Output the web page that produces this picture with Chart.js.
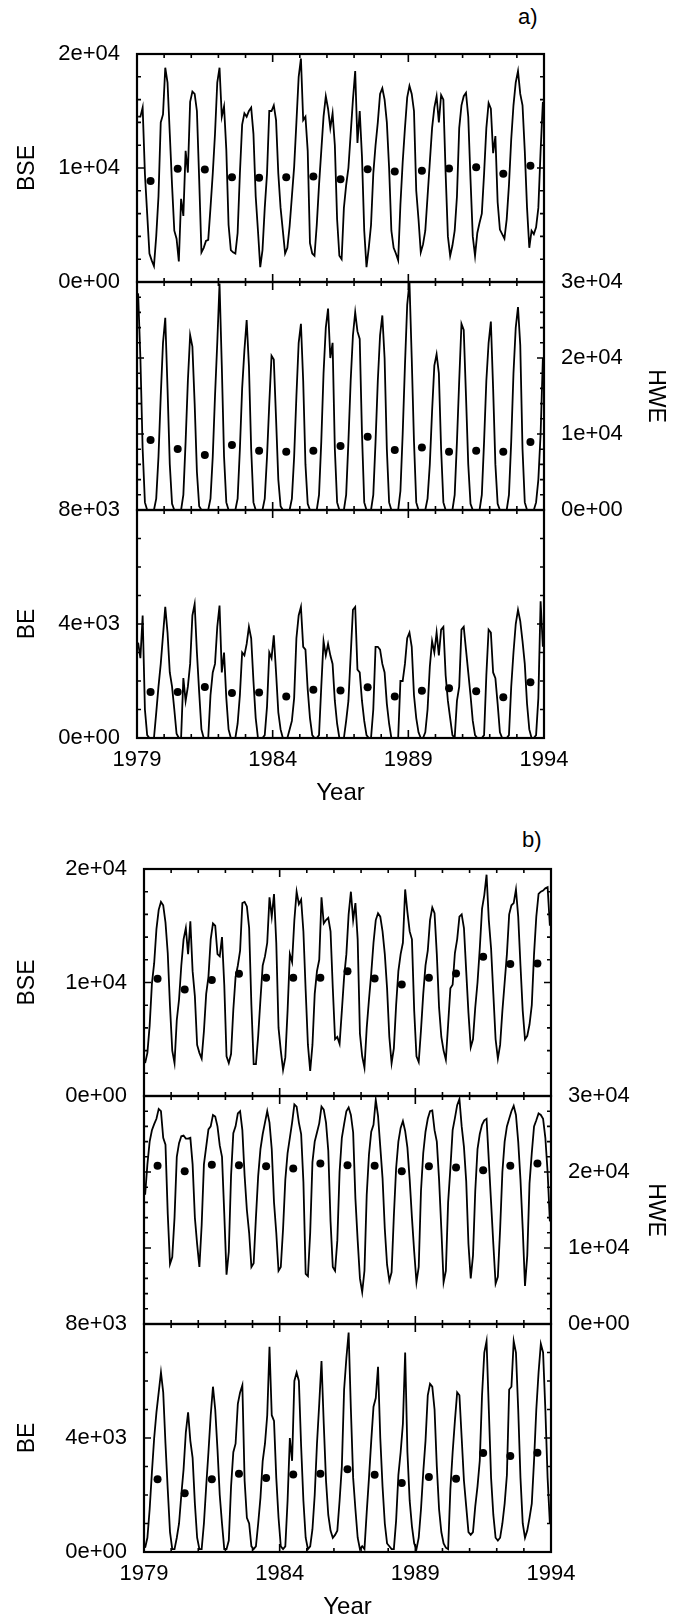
<!DOCTYPE html>
<html>
<head>
<meta charset="utf-8">
<script src="https://cdn.jsdelivr.net/npm/chart.js@4.4.0/dist/chart.umd.min.js"></script>
<style>
  body { margin: 0; background: #fff; width: 684px; height: 1619px; position: relative; overflow: hidden;
         font-family: "Liberation Sans", Arial, sans-serif; }
  canvas { position: absolute; left: 0; }
  .tag { position: absolute; font-size: 22px; line-height: 22px; color: #000; }
</style>
</head>
<body>
<div class="tag" style="left:518px; top:6px;">a)</div>
<div class="tag" style="left:522px; top:829px;">b)</div>
<canvas id="aBSE"></canvas>
<canvas id="aHWE"></canvas>
<canvas id="aBE"></canvas>
<canvas id="bBSE"></canvas>
<canvas id="bHWE"></canvas>
<canvas id="bBE"></canvas>
<script>
const FIRST_YEAR = 1979;
const LAST_YEAR = 1994;
const yearTicks = [1979, 1984, 1989, 1994];

// monthly values, Jan 1979 .. Dec 1993 (one row per year)
const bseA = [
  14500, 14500, 15300, 9500, 6000, 2500, 1900, 1400, 4000, 7500, 14000, 14700,
  18800, 17500, 13000, 8500, 4500, 3800, 1800, 7300, 5800, 11500, 9600, 15800,
  16700, 16500, 15000, 9000, 2600, 3000, 3600, 3700, 6500, 9500, 13000, 17500,
  18800, 14500, 15400, 11600, 5000, 2800, 2600, 2500, 4300, 9500, 13800, 14800,
  14500, 15000, 15300, 13000, 7500, 4500, 1300, 2800, 6500, 9500, 15000, 15000,
  15500, 14200, 9500, 6500, 4500, 2500, 3000, 4900, 7500, 10100, 14000, 18000,
  19600, 14200, 14500, 11500, 3400, 2500, 2300, 5000, 8500, 11500, 14500, 16300,
  15200, 13500, 14800, 12000, 5500, 2300, 2000, 6500, 8500, 10000, 13000, 16000,
  18500, 12200, 15000, 11000, 4500, 1300, 3000, 5000, 9500, 12000, 14000, 16500,
  17000, 16000, 14000, 10000, 4500, 3000, 2500, 1900, 6800, 10500, 13500, 16200,
  17200, 16500, 15000, 8000, 5500, 2600, 3300, 4500, 7500, 10500, 13500, 15300,
  16300, 14000, 16400, 16000, 9500, 4000, 2300, 3200, 4500, 7500, 13500, 15500,
  16300, 16600, 14500, 9000, 4000, 2300, 4300, 5200, 6000, 9500, 13500, 15700,
  15200, 11300, 12800, 7000, 4600, 4200, 3800, 5500, 8500, 12500, 15500, 17500,
  18500, 16500, 15500, 11500, 6500, 3000, 4500, 4200, 4800, 6500, 11500, 15800
];
const hweA = [
  28500, 20000, 8000, 1000, 0, 0, 0, 0, 1500, 7000, 15000, 22000,
  25300, 16000, 6000, 800, 0, 0, 0, 0, 2000, 9000, 17000, 23000,
  21500, 14000, 5000, 500, 0, 0, 0, 0, 1500, 7000, 15000, 22000,
  29800, 19000, 7000, 1000, 0, 0, 0, 0, 1500, 8000, 16000, 21000,
  25000, 19000, 8000, 1000, 0, 0, 0, 0, 1500, 7000, 14000, 20300,
  19800, 12000, 4000, 500, 0, 0, 0, 0, 1500, 7000, 15000, 22000,
  24500, 17000, 6000, 800, 0, 0, 0, 0, 2000, 9000, 18000, 24000,
  26500, 20000, 22000, 8000, 1000, 0, 0, 0, 2000, 9000, 17000, 23000,
  26000, 23500, 22500, 10000, 1000, 0, 0, 0, 2000, 9000, 17000, 23000,
  25600, 20000, 8000, 1000, 0, 0, 0, 0, 2500, 10000, 19000, 27000,
  30000, 20000, 9000, 1000, 0, 0, 0, 0, 1500, 6000, 13000, 19000,
  20500, 18000, 8000, 1000, 0, 0, 0, 0, 2000, 9000, 17000, 24500,
  23700, 15000, 6000, 800, 0, 0, 0, 0, 2000, 9000, 17000, 22000,
  24800, 16000, 6000, 800, 0, 0, 0, 0, 2000, 9000, 18000, 24000,
  26700, 21700, 8000, 1000, 0, 0, 0, 0, 1000, 4000, 10000, 20000
];
const beA = [
  3350, 2800, 4300, 1000, 100, 0, 0, 0, 880, 1800, 2600, 3600,
  4600, 3700, 2300, 1800, 1000, 150, 0, 0, 2100, 1300, 1800, 2600,
  4300, 4700, 3000, 1600, 300, 0, 0, 0, 1500, 2300, 2600, 3900,
  4650, 2300, 3000, 1400, 300, 0, 0, 0, 500, 1500, 3000, 2900,
  3300, 3900, 3500, 2000, 700, 0, 0, 0, 100, 1100, 3000, 2800,
  3600, 2300, 900, 300, 0, 0, 0, 300, 600, 1400, 3500, 4300,
  4600, 3200, 3100, 1700, 700, 100, 0, 0, 100, 1800, 3400, 2900,
  3300, 2900, 2600, 1300, 500, 0, 0, 0, 600, 1300, 2900, 4500,
  4600, 2400, 2300, 1300, 600, 100, 0, 0, 1000, 3200, 3200, 3100,
  2600, 2300, 1200, 500, 0, 0, 0, 0, 2000, 2000, 2600, 3500,
  3700, 3200, 1500, 700, 200, 0, 0, 200, 1000, 2500, 3400, 3000,
  3700, 2900, 3800, 3900, 2200, 1300, 700, 100, 0, 1300, 1800, 3800,
  3900, 3100, 2300, 1500, 600, 100, 0, 0, 0, 100, 2200, 3800,
  3700, 2300, 2100, 1200, 200, 0, 0, 0, 100, 1800, 3000, 4000,
  4500, 4100, 3400, 2600, 1200, 300, 0, 0, 100, 1400, 4800, 3200
];
const bseB = [
  2900, 3800, 6200, 9900, 11700, 14700, 16400, 17100, 16800, 15300, 12600, 7900,
  4000, 2900, 6700, 8500, 11500, 13800, 14800, 12500, 15400, 11000, 8800, 4500,
  3800, 3300, 5700, 9000, 10500, 13800, 15200, 15000, 12500, 12300, 14000, 9800,
  3500, 2900, 3700, 7600, 10500, 11500, 12800, 17000, 17100, 16700, 14800, 8000,
  2800, 2800, 5300, 8500, 11500, 12300, 13500, 17500, 15800, 17800, 13500, 6000,
  4000, 2300, 3400, 7500, 12500, 11800, 15500, 18000, 16900, 17300, 14500, 9300,
  4500, 2200, 4500, 9000, 11000, 12000, 17500, 15200, 15500, 15700, 14500, 9500,
  5000, 5200, 4600, 7500, 10500, 12500, 16000, 18000, 15500, 17000, 13800, 5500,
  3500, 2500, 6000, 8500, 10800, 13500, 15500, 16100, 15800, 14500, 12500, 9500,
  5200, 2900, 4200, 8000, 11000, 12500, 13500, 18200, 16200, 14500, 13800, 7500,
  3500, 3000, 5800, 9000, 11500, 12800, 15500, 16600, 16100, 12500, 7800, 5200,
  4000, 3200, 6300, 9500, 9800, 12600, 13800, 15800, 16000, 14800, 11000, 7300,
  4300, 5000, 7800, 10000, 13000, 16500, 17700, 19500, 15500, 13000, 9000, 5000,
  3300, 4500, 7500, 10000, 12500, 16000, 16800, 17000, 18200, 15800, 11500, 7500,
  5000, 5300, 6300, 8000, 12500, 15800, 17800, 18000, 18100, 18300, 18400, 15000
];
const hweB = [
  17000, 21000, 24000, 25500, 26300, 27000, 28300, 28000, 24500, 23600, 14500, 7900,
  8800, 14000, 22000, 23800, 24700, 24800, 24400, 24400, 24500, 21000, 14000, 10500,
  7500, 13000, 21000, 23300, 25600, 26000, 27500, 27300, 26000, 23500, 22000, 14500,
  6500, 9500, 19500, 25100, 26000, 27700, 28000, 25500, 19500, 15000, 12000, 7500,
  8000, 14000, 19500, 23000, 25000, 26500, 28000, 26500, 23000, 16000, 12000, 7000,
  7500, 12500, 19000, 22500, 24500, 26500, 28900, 28600, 26500, 25000, 18700, 6600,
  6300, 12000, 21300, 24000, 25200, 26400, 28600, 28200, 26500, 22800, 13500, 7500,
  7000, 11000, 20000, 24500, 26300, 28000, 28500, 27500, 25200, 16500, 11000, 6000,
  4200, 7000, 17000, 22300, 25300, 26200, 29500, 27400, 23300, 19200, 12500, 7800,
  5700, 6800, 14200, 20500, 24000, 25800, 26700, 25400, 23200, 19000, 14000, 9500,
  5500, 7500, 17500, 22500, 25300, 27000, 28000, 28100, 25500, 24000, 19000, 12500,
  5500, 7000, 16000, 20500, 25500, 27100, 28800, 29600, 26000, 23300, 18800, 10500,
  6000, 9000, 17500, 23000, 25000, 26200, 26800, 27000, 21500, 16000, 10500, 5300,
  6200, 12500, 20000, 24000, 26000, 27000, 28000, 28700, 27500, 24000, 19000, 12500,
  5000, 9000, 18500, 22500, 26000, 26800, 27700, 27500, 27000, 24500, 20000, 13500
];
const beB = [
  150, 500, 1500, 2800, 4000, 4900, 5600, 6300, 5600, 3800, 2200, 700,
  100, 100, 500, 1000, 2000, 2900, 4200, 4900, 3900, 3300, 1700, 500,
  100, 100, 1000, 2300, 3500, 4800, 5800, 5000, 3600, 2000, 1000, 100,
  100, 400, 2300, 3500, 3800, 5200, 5600, 5850, 2500, 1200, 1000, 200,
  100, 200, 1000, 1900, 3200, 3800, 4800, 7200, 4800, 4600, 2600, 1200,
  200, 100, 200, 1800, 4000, 3200, 6000, 6300, 6000, 3700, 1800, 500,
  100, 200, 800, 2000, 3800, 5200, 6700, 4500, 2500, 1300, 750, 500,
  600, 750, 1800, 3000, 5700, 6800, 7700, 5000, 2600, 1500, 500, 100,
  200, 100, 1400, 2600, 3900, 5100, 5400, 6500, 4000, 2300, 1000, 300,
  200, 100, 100, 1100, 2700, 3500, 4500, 7000, 3500, 1800, 900, 300,
  100, 500, 1500, 2800, 3900, 5500, 5900, 5800, 5000, 3000, 1500, 700,
  300, 150, 100, 2200, 3500, 4600, 5600, 5500, 4000, 2500, 1600, 700,
  600, 700, 1600, 2300, 3200, 5500, 7000, 7400, 5000, 2600, 1300, 500,
  400, 500, 1000, 1700, 2700, 5700, 5800, 7400, 7000, 5000, 2600, 1000,
  500, 750, 1200, 1700, 3200, 5000, 6300, 7300, 7000, 5000, 2600, 1000
];

// annual means, 1979 .. 1993
const bseAMean = [8870, 9930, 9870, 9190, 9140, 9190, 9250, 9020, 9900, 9690, 9750, 9960, 10070, 9490, 10190];
const hweAMean = [9200, 8020, 7230, 8540, 7800, 7670, 7800, 8410, 9640, 7880, 8230, 7670, 7800, 7670, 8940];
const beAMean  = [1610, 1610, 1790, 1580, 1600, 1460, 1690, 1670, 1780, 1460, 1660, 1750, 1640, 1430, 1960];
const bseBMean = [10320, 9390, 10210, 10760, 10410, 10410, 10410, 11000, 10350, 9830, 10410, 10790, 12260, 11640, 11670];
const hweBMean = [20810, 20100, 20940, 20900, 20760, 20460, 21120, 20900, 20810, 20100, 20760, 20590, 20240, 20810, 21120];
const beBMean  = [2550, 2060, 2550, 2750, 2600, 2720, 2750, 2900, 2710, 2420, 2630, 2570, 3470, 3370, 3480];

Chart.defaults.font.family = '"Liberation Sans", Arial, sans-serif';
Chart.defaults.color = '#000';

const panels = [
  { id: 'aBSE', series: bseA, means: bseAMean, left: 137, right: 544, top: 54,   bottom: 282,  max: 20000, step: 2000, major: 10000, side: 'left',  title: 'BSE', xAxis: false },
  { id: 'aHWE', series: hweA, means: hweAMean, left: 137, right: 544, top: 282,  bottom: 510,  max: 30000, step: 2000, major: 10000, side: 'right', title: 'HWE', xAxis: false },
  { id: 'aBE',  series: beA,  means: beAMean,  left: 137, right: 544, top: 510,  bottom: 738,  max: 8000,  step: 1000, major: 4000,  side: 'left',  title: 'BE',  xAxis: true },
  { id: 'bBSE', series: bseB, means: bseBMean, left: 144, right: 551, top: 869,  bottom: 1096, max: 20000, step: 2000, major: 10000, side: 'left',  title: 'BSE', xAxis: false },
  { id: 'bHWE', series: hweB, means: hweBMean, left: 144, right: 551, top: 1096, bottom: 1324, max: 30000, step: 2000, major: 10000, side: 'right', title: 'HWE', xAxis: false },
  { id: 'bBE',  series: beB,  means: beBMean,  left: 144, right: 551, top: 1324, bottom: 1552, max: 8000,  step: 1000, major: 4000,  side: 'left',  title: 'BE',  xAxis: true }
];

function monthly(arr) {
  return arr.map((v, i) => ({ x: FIRST_YEAR + (i + 0.5) / 12, y: v }));
}
function annual(arr) {
  return arr.map((v, i) => ({ x: FIRST_YEAR + i + 0.5, y: v }));
}
function sci(v) {
  const [m, e] = v.toExponential(0).split('e');
  return m + 'e' + (e[0] === '-' ? '-' : '+') + String(Math.abs(+e)).padStart(2, '0');
}

// frame plus inward ticks on all four sides
const frameTicks = {
  id: 'frameTicks',
  afterDatasetsDraw(chart) {
    const { ctx, chartArea: a, scales } = chart;
    const p = chart.options.panel;
    ctx.save();
    ctx.strokeStyle = '#000';
    ctx.lineWidth = 1.6;
    ctx.beginPath();
    scales.x.ticks.forEach(t => {
      const px = scales.x.getPixelForValue(t.value);
      const len = yearTicks.includes(t.value) ? 8 : 4;
      ctx.moveTo(px, a.top); ctx.lineTo(px, a.top + len);
      ctx.moveTo(px, a.bottom); ctx.lineTo(px, a.bottom - len);
    });
    scales.yl.ticks.forEach(t => {
      const py = scales.yl.getPixelForValue(t.value);
      const len = t.value % p.major === 0 ? 7 : 4;
      ctx.moveTo(a.left, py); ctx.lineTo(a.left + len, py);
    });
    scales.yr.ticks.forEach(t => {
      const py = scales.yr.getPixelForValue(t.value);
      const len = t.value % p.major === 0 ? 7 : 4;
      ctx.moveTo(a.right, py); ctx.lineTo(a.right - len, py);
    });
    ctx.stroke();
    ctx.lineWidth = 2.2;
    ctx.strokeRect(a.left, a.top, a.right - a.left, a.bottom - a.top);
    ctx.restore();
  }
};

function drawPanel(p) {
  const canvas = document.getElementById(p.id);
  // y tick labels ask for half a line plus their padding above and below the area
  const padTop = 34;
  const padBottom = p.xAxis ? 0 : 34;
  const xHeight = p.xAxis ? 80 : 0;
  canvas.width = 684;
  canvas.height = padTop + (p.bottom - p.top) + padBottom + xHeight;
  canvas.style.top = (p.top - padTop) + 'px';

  const yAxis = (pos) => ({
    position: pos,
    min: 0,
    max: p.max,
    grid: { display: false, drawTicks: false },
    border: { display: false },
    ticks: {
      stepSize: p.step,
      autoSkip: false,
      padding: 17,
      font: { size: 22 },
      color: '#000',
      callback: v => (p.side === pos && v % p.major === 0) ? sci(v) : ''
    },
    title: {
      display: p.side === pos,
      text: p.title,
      font: { size: 23 },
      color: '#000',
      padding: { top: pos === 'left' ? 14 : 15, bottom: 0 }
    },
    afterFit: s => { s.width = pos === 'left' ? p.left : 684 - p.right; }
  });

  new Chart(canvas, {
    type: 'line',
    data: {
      datasets: [
        {
          data: annual(p.means),
          showLine: false,
          pointRadius: 4,
          pointBackgroundColor: '#000',
          pointBorderWidth: 0,
          yAxisID: 'yl'
        },
        {
          data: monthly(p.series),
          borderColor: '#000',
          borderWidth: 1.8,
          pointRadius: 0,
          tension: 0,
          fill: false,
          yAxisID: 'yl'
        }
      ]
    },
    options: {
      panel: p,
      responsive: false,
      animation: false,
      events: [],
      layout: { padding: { top: padTop, bottom: padBottom, left: 0, right: 0 } },
      plugins: { legend: { display: false }, tooltip: { enabled: false } },
      scales: {
        x: {
          type: 'linear',
          min: FIRST_YEAR,
          max: LAST_YEAR,
          display: p.xAxis,
          grid: { display: false, drawTicks: false },
          border: { display: false },
          ticks: {
            stepSize: 1,
            autoSkip: false,
            maxRotation: 0,
            padding: 9,
            font: { size: 22 },
            color: '#000',
            callback: v => yearTicks.includes(v) ? String(v) : ''
          },
          title: { display: true, text: 'Year', font: { size: 24 }, color: '#000', padding: { top: 0, bottom: 10 } },
          afterFit: s => { s.height = xHeight; }
        },
        yl: yAxis('left'),
        yr: yAxis('right')
      }
    },
    plugins: [frameTicks]
  });
}

panels.forEach(drawPanel);
</script>
</body>
</html>
